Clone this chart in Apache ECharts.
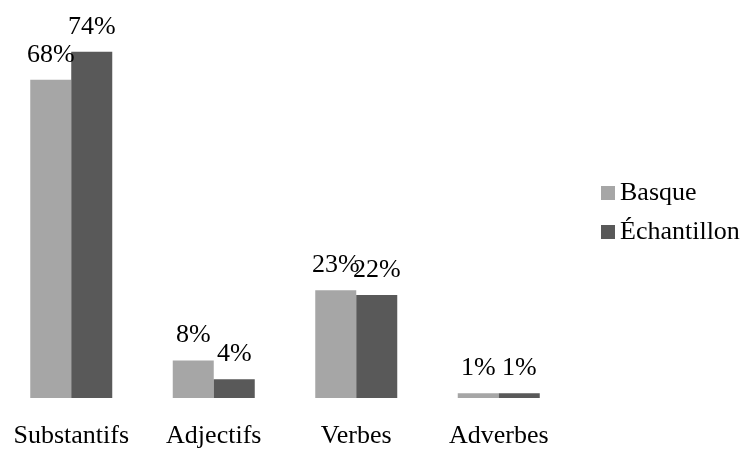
<!DOCTYPE html>
<html>
<head>
<meta charset="utf-8">
<script src="https://cdn.jsdelivr.net/npm/echarts@6/dist/echarts.min.js"></script>
<style>
  html, body { margin: 0; padding: 0; background: #fff; }
  #chart { width: 747px; height: 450px; }
</style>
</head>
<body>
<div id="chart"></div>
<script>
// categories and values (percent)
var categories = ['Substantifs', 'Adjectifs', 'Verbes', 'Adverbes'];
var basque = [68, 8, 23, 1];
var echantillon = [74, 4, 22, 1];

var font = '"Liberation Serif", "DejaVu Serif", serif';

var myChart = echarts.init(document.getElementById('chart'));
var option = {
  animation: false,
  textStyle: { fontFamily: font },
  grid: {
    left: -4,
    right: 177,
    top: 23.6,
    bottom: 52
  },
  legend: {
    orient: 'vertical',
    left: 596,
    top: 175,
    itemWidth: 14,
    itemHeight: 14,
    itemGap: 13,
    icon: 'rect',
    textStyle: { fontFamily: font, fontSize: 26, color: '#000' },
    data: ['Basque', 'Échantillon']
  },
  xAxis: {
    type: 'category',
    data: categories,
    axisLine: { show: false },
    axisTick: { show: false },
    axisLabel: { interval: 0, fontFamily: font, fontSize: 26, color: '#000', margin: 25 }
  },
  yAxis: {
    type: 'value',
    min: 0,
    max: 80,
    show: false,
    splitLine: { show: false }
  },
  series: [
    {
      name: 'Basque',
      type: 'bar',
      data: basque,
      barWidth: 41,
      barGap: '0%',
      itemStyle: { color: '#a6a6a6' },
      label: { show: true, position: 'top', distance: 12, formatter: '{c}%', fontFamily: font, fontSize: 26, color: '#000' }
    },
    {
      name: 'Échantillon',
      type: 'bar',
      data: echantillon,
      barWidth: 41,
      barGap: '0%',
      itemStyle: { color: '#595959' },
      label: { show: true, position: 'top', distance: 12, formatter: '{c}%', fontFamily: font, fontSize: 26, color: '#000' }
    }
  ]
};
myChart.setOption(option);
</script>
</body>
</html>
